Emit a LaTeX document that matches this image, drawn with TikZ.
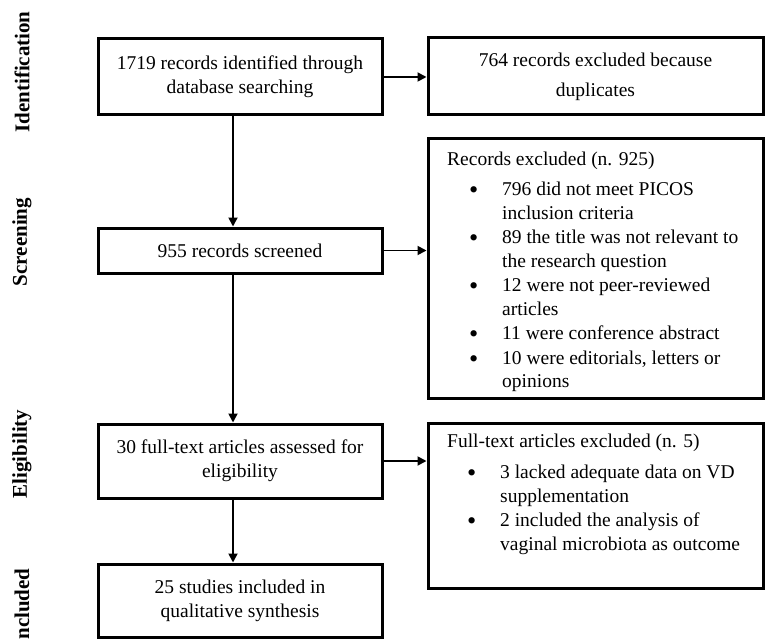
\documentclass[tikz,border=0pt]{standalone}
\usepackage{fontspec}
\setmainfont{Liberation Serif}
\usetikzlibrary{arrows.meta}
\newcommand{\bul}{\raisebox{-3pt}{\scalebox{1.35}{\textbullet}}}
\begin{document}
\begin{tikzpicture}[x=1pt,y=-1pt,
  box/.style={draw, line width=3pt, rectangle, inner sep=0pt},
  txt/.style={font=\fontsize{19.5}{24}\selectfont, align=center},
  listtxt/.style={font=\fontsize{19.5}{23.5}\selectfont, align=left, inner sep=0pt, anchor=north west},
  stage/.style={font=\fontsize{21}{24}\selectfont\bfseries, rotate=90, inner sep=0pt},
  arr/.style={line width=1.8pt, -{Triangle[length=9pt,width=9pt]}}
]
\useasboundingbox (0,0) rectangle (765,639);
% stage labels
\node[stage] (sid) at (22,72) {Identification};
\node[stage] (ssc) at (22,242) {Screening};
\node[stage] (sel) at (22,454) {Eligibility};
\node[stage] (sin) at (22,608) {Included};
% boxes
\node[box, txt, minimum width=284pt, minimum height=76pt] (b1) at (240,77)
  {1719 records identified through\\database searching};
\node[box, txt, font=\fontsize{19.5}{30}\selectfont, minimum width=335pt, minimum height=77pt] (b2) at (595.5,76.5)
  {764 records excluded because\\duplicates};
\node[box, txt, minimum width=284pt, minimum height=45pt] (b3) at (240,250.5)
  {955 records screened};
\node[box, minimum width=335pt, minimum height=259pt] (b4) at (595.5,268.5) {};
\node[listtxt] (t4) at (447,152) {Records excluded (n. 925)\\[6.5pt]
\hspace*{22pt}\makebox[33pt][l]{\bul}796 did not meet PICOS\\
\hspace*{55pt}inclusion criteria\\[1pt]
\hspace*{22pt}\makebox[33pt][l]{\bul}89 the title was not relevant to\\
\hspace*{55pt}the research question\\[1pt]
\hspace*{22pt}\makebox[33pt][l]{\bul}12 were not peer-reviewed\\
\hspace*{55pt}articles\\[1pt]
\hspace*{22pt}\makebox[33pt][l]{\bul}11 were conference abstract\\[1pt]
\hspace*{22pt}\makebox[33pt][l]{\bul}10 were editorials, letters or\\
\hspace*{55pt}opinions};
\node[box, txt, minimum width=284pt, minimum height=74pt] (b5) at (240,461)
  {30 full-text articles assessed for\\eligibility};
\node[box, minimum width=335pt, minimum height=165pt] (b6) at (595.5,505.5) {};
\node[listtxt, font=\fontsize{19.5}{24}\selectfont] (t6) at (447,434) {Full-text articles excluded (n. 5)\\[7pt]
\hspace*{20pt}\makebox[33pt][l]{\bul}3 lacked adequate data on VD\\
\hspace*{53pt}supplementation\\
\hspace*{20pt}\makebox[33pt][l]{\bul}2 included the analysis of\\
\hspace*{53pt}vaginal microbiota as outcome};
\node[box, txt, minimum width=284pt, minimum height=73pt] (b7) at (240,600.5)
  {25 studies included in\\qualitative synthesis};
% connectors
\coordinate (ax) at (233,0);
\draw[arr] (b1.south -| ax) -- (b3.north -| ax);
\draw[arr] (b3.south -| ax) -- (b5.north -| ax);
\draw[arr] (b5.south -| ax) -- (b7.north -| ax);
\draw[arr] (b1.east) -- (b1.east -| b2.west);
\draw[arr] (b3.east) -- (b3.east -| b4.west);
\draw[arr] (b5.east) -- (b5.east -| b6.west);
\end{tikzpicture}
\end{document}
